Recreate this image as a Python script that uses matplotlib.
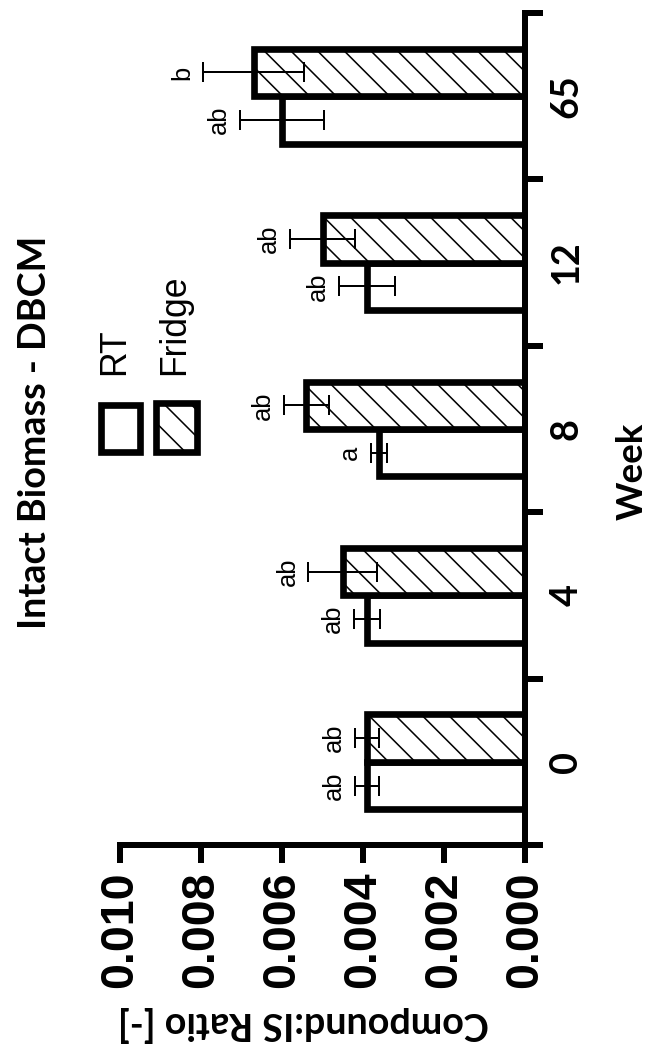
import numpy as np
import matplotlib.pyplot as plt
from matplotlib.patches import Rectangle

weeks = ["0", "4", "8", "12", "65"]
rt_mean = [0.0039, 0.0039, 0.0036, 0.0039, 0.0060]
rt_sd = [0.0003, 0.00033, 0.0002, 0.0007, 0.00104]
fridge_mean = [0.0039, 0.0045, 0.0054, 0.0050, 0.0067]
fridge_sd = [0.0003, 0.00085, 0.00055, 0.0008, 0.00125]
rt_letters = ["ab", "ab", "a", "ab", "ab"]
fridge_letters = ["ab", "ab", "ab", "ab", "b"]
value_ticks = [0.000, 0.002, 0.004, 0.006, 0.008, 0.010]

DPI = 160
W, H = 651, 1051
plt.rcParams['hatch.linewidth'] = 0.7
plt.rcParams['font.family'] = ['Liberation Sans', 'DejaVu Sans']

fig = plt.figure(figsize=(W / DPI, H / DPI), dpi=DPI)
ax = fig.add_axes([120 / W, 206 / H, 405 / W, 832 / H])

y = np.arange(len(weeks))
w = 0.285
ax.barh(y - w / 2, rt_mean, height=w, color='white', edgecolor='black',
        linewidth=3, zorder=2)
ax.barh(y + w / 2, fridge_mean, height=w, color='white', edgecolor='black',
        linewidth=3, hatch='\\\\', zorder=2)
ax.errorbar(rt_mean, y - w / 2, xerr=rt_sd, fmt='none', ecolor='black',
            elinewidth=0.9, capsize=4.7, capthick=0.9, zorder=3)
ax.errorbar(fridge_mean, y + w / 2, xerr=fridge_sd, fmt='none', ecolor='black',
            elinewidth=0.9, capsize=4.7, capthick=0.9, zorder=3)

# significance letters
for i in range(len(weeks)):
    ax.annotate(rt_letters[i], (rt_mean[i] + rt_sd[i], y[i] - w / 2),
                xytext=(-4, 0), textcoords='offset points', rotation=90,
                ha='right', va='center', fontsize=11.5)
    ax.annotate(fridge_letters[i], (fridge_mean[i] + fridge_sd[i], y[i] + w / 2),
                xytext=(-4, 0), textcoords='offset points', rotation=90,
                ha='right', va='center', fontsize=11.5)

ax.set_xlim(0.010, 0.0)
ax.set_ylim(-0.5, len(weeks) - 0.5)

ax.set_xticks(value_ticks)
ax.set_xticklabels(["%.3f" % v for v in value_ticks], rotation=90,
                   fontsize=21, fontweight='bold')
ax.tick_params(axis='x', length=8, width=2.7, pad=4)

ax.yaxis.tick_right()
ax.set_yticks(y)
ax.set_yticklabels(weeks, rotation=90, va='center', fontsize=17,
                   fontweight='bold', family='Lato')
ax.set_yticks(np.arange(-0.5, len(weeks), 1), minor=True)
ax.tick_params(axis='y', which='major', length=0, pad=11)
ax.tick_params(axis='y', which='minor', length=8, width=2.7)

for s in ['left', 'top']:
    ax.spines[s].set_visible(False)
for s in ['right', 'bottom']:
    ax.spines[s].set_linewidth(2.7)

fig.text(35 / W, 1 - 432 / H, "Intact Biomass - DBCM", rotation=90,
         ha='center', va='center', fontsize=17, fontweight='bold', family='Lato')
fig.text(632 / W, 1 - 471 / H, "Week", rotation=90, ha='center', va='center',
         fontsize=16.5, fontweight='bold', family='Lato')
fig.text(303 / W, 1 - 1024 / H, "Compound:IS Ratio [-]", rotation=180,
         ha='center', va='center', fontsize=17, fontweight='bold', family='Lato')

# legend (drawn by hand, rotated like the rest)
fig.add_artist(Rectangle((101 / W, 1 - 452 / H), 39 / W, 47 / H,
                         transform=fig.transFigure, facecolor='white',
                         edgecolor='black', linewidth=3))
fig.add_artist(Rectangle((156 / W, 1 - 452 / H), 41 / W, 49 / H,
                         transform=fig.transFigure, facecolor='white',
                         edgecolor='black', linewidth=3, hatch='\\\\'))
fig.text(115 / W, 1 - 375 / H, "RT", rotation=90, ha='center', va='bottom',
         fontsize=16)
fig.text(175 / W, 1 - 375 / H, "Fridge", rotation=90, ha='center', va='bottom',
         fontsize=16)

fig.savefig('out.png', dpi=DPI)
